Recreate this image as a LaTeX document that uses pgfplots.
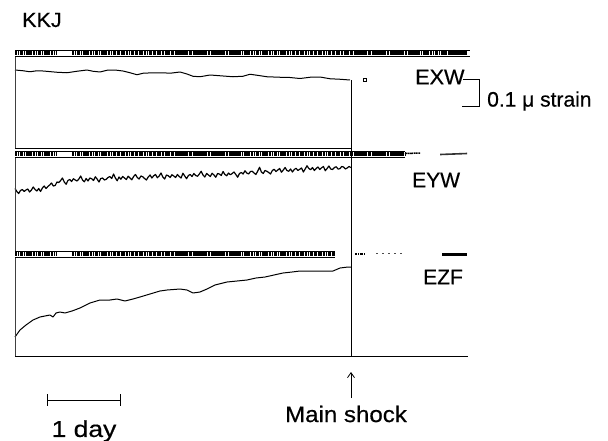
\documentclass[border=0pt]{standalone}
\usepackage{fontspec}
\setmainfont{Liberation Sans}
\newfontfamily\labfont{Liberation Sans}[FakeBold=0.5]
\usepackage{pgfplots}
\pgfplotsset{compat=1.18}
\usetikzlibrary{arrows.meta}

% strain records at station KKJ; x in days from the start of the record,
% y in microstrain above the foot of each panel (0.1 microstrain = 25 bp)
\pgfplotstableread{
d      e
0.000  0.312
0.110  0.309
0.205  0.305
0.301  0.309
0.384  0.308
0.575  0.303
0.712  0.301
0.849  0.307
0.986  0.312
1.068  0.307
1.164  0.304
1.260  0.311
1.370  0.312
1.479  0.308
1.575  0.301
1.671  0.293
1.753  0.299
1.890  0.301
2.027  0.301
2.123  0.299
2.260  0.304
2.356  0.296
2.438  0.287
2.534  0.285
2.671  0.292
2.808  0.289
2.986  0.285
3.123  0.287
3.219  0.295
3.315  0.291
3.452  0.285
3.630  0.283
3.767  0.282
3.904  0.278
4.041  0.283
4.178  0.284
4.315  0.277
4.452  0.275
4.589  0.272
}\exw

\pgfplotstableread{
d      e
0.000  0.258
0.025  0.246
0.050  0.238
0.075  0.250
0.100  0.254
0.125  0.246
0.150  0.252
0.175  0.256
0.200  0.244
0.225  0.252
0.250  0.264
0.275  0.254
0.300  0.248
0.325  0.258
0.350  0.246
0.375  0.260
0.400  0.268
0.425  0.258
0.450  0.266
0.475  0.272
0.500  0.280
0.525  0.268
0.550  0.270
0.575  0.284
0.600  0.282
0.625  0.290
0.650  0.300
0.675  0.284
0.700  0.275
0.725  0.290
0.750  0.294
0.775  0.286
0.800  0.297
0.825  0.292
0.850  0.288
0.875  0.296
0.900  0.308
0.925  0.292
0.950  0.285
0.975  0.298
1.000  0.288
1.025  0.300
1.050  0.297
1.075  0.290
1.100  0.305
1.125  0.296
1.150  0.284
1.175  0.298
1.200  0.300
1.225  0.292
1.250  0.295
1.275  0.302
1.300  0.306
1.325  0.298
1.350  0.316
1.375  0.300
1.400  0.289
1.425  0.304
1.450  0.295
1.475  0.306
1.500  0.300
1.525  0.294
1.550  0.307
1.575  0.300
1.600  0.293
1.625  0.306
1.650  0.314
1.675  0.302
1.700  0.296
1.725  0.308
1.750  0.305
1.775  0.298
1.800  0.292
1.825  0.304
1.850  0.312
1.875  0.300
1.900  0.309
1.925  0.314
1.950  0.301
1.975  0.308
2.000  0.320
2.025  0.304
2.050  0.296
2.075  0.312
2.100  0.309
2.125  0.302
2.150  0.313
2.175  0.308
2.200  0.302
2.225  0.314
2.250  0.306
2.275  0.300
2.300  0.319
2.325  0.308
2.350  0.297
2.375  0.310
2.400  0.314
2.425  0.306
2.450  0.318
2.475  0.310
2.500  0.307
2.525  0.316
2.550  0.327
2.575  0.312
2.600  0.304
2.625  0.318
2.650  0.312
2.675  0.306
2.700  0.319
2.725  0.312
2.750  0.303
2.775  0.318
2.800  0.316
2.825  0.310
2.850  0.326
2.875  0.314
2.900  0.309
2.925  0.320
2.950  0.313
2.975  0.318
3.000  0.324
3.025  0.314
3.050  0.303
3.075  0.318
3.100  0.322
3.125  0.316
3.150  0.329
3.175  0.320
3.200  0.316
3.225  0.326
3.250  0.327
3.275  0.320
3.300  0.314
3.325  0.328
3.350  0.343
3.375  0.324
3.400  0.318
3.425  0.330
3.450  0.327
3.475  0.322
3.500  0.316
3.525  0.330
3.550  0.335
3.575  0.326
3.600  0.332
3.625  0.338
3.650  0.323
3.675  0.332
3.700  0.342
3.725  0.330
3.750  0.327
3.775  0.336
3.800  0.324
3.825  0.334
3.850  0.339
3.875  0.330
3.900  0.335
3.925  0.340
3.950  0.324
3.975  0.336
4.000  0.349
4.025  0.338
4.050  0.333
4.075  0.342
4.100  0.330
4.125  0.338
4.150  0.344
4.175  0.334
4.200  0.341
4.225  0.346
4.250  0.329
4.275  0.338
4.300  0.348
4.325  0.336
4.350  0.334
4.375  0.342
4.400  0.345
4.425  0.336
4.450  0.337
4.475  0.346
4.500  0.344
4.525  0.336
4.550  0.340
4.575  0.346
4.600  0.342
}\eyw

\pgfplotstableread{
d      e
0.000  0.076
0.068  0.104
0.151  0.124
0.247  0.144
0.342  0.156
0.411  0.160
0.479  0.164
0.521  0.156
0.562  0.172
0.616  0.176
0.685  0.172
0.781  0.180
0.890  0.192
1.027  0.212
1.164  0.224
1.301  0.224
1.397  0.228
1.507  0.220
1.616  0.228
1.712  0.236
1.849  0.248
1.986  0.260
2.082  0.264
2.260  0.268
2.356  0.264
2.438  0.252
2.534  0.256
2.630  0.268
2.740  0.284
2.904  0.296
3.041  0.300
3.178  0.304
3.301  0.312
3.425  0.316
3.548  0.324
3.671  0.332
3.795  0.336
3.904  0.340
4.110  0.340
4.356  0.340
4.452  0.352
4.562  0.356
4.603  0.356
}\ezf

\pgfplotsset{
  strainpanel/.style={
    scale only axis, width=457bp, xmin=0, xmax=6.260, ymin=0,
    hide axis, clip=false, anchor=south west},
}
\tikzset{
  trace/.style={black, line width=1pt, line join=round},
  % printed time-code strip along the top of each record
  codestrip/.style={black, line width=4.2bp,
    dash pattern=on 2.4bp off 0.6bp on 1.4bp off 0.5bp on 3.4bp off 0.8bp on 1bp off 0.5bp on 2bp off 0.7bp on 4bp off 0.6bp},
  stripframe/.style={black, line width=0.6pt},
}

\begin{document}
\begin{tikzpicture}
\path[use as bounding box] (0bp,0bp) rectangle (608bp,-441bp);

% ---------- EXW ----------
\begin{axis}[strainpanel, at={(15bp,-148bp)}, height=92bp, ymax=0.368]
  \addplot[trace] table[x=d, y=e] {\exw};
  \addplot[only marks, mark=square, mark size=1.7pt, black, mark options={line width=0.8pt}]
    coordinates {(4.795,0.272)};
  \draw[line width=0.6pt, black!75] (axis cs:0,0.368) -- (axis cs:0,0);
  \draw[line width=0.6pt] (axis cs:0,0) -- (axis cs:4.62,0);
  \draw[stripframe] (axis cs:0,0.368) -- (axis cs:6.233,0.368);
  \draw[stripframe] (axis cs:0,0.392) -- (axis cs:6.233,0.392);
  \draw[codestrip] (axis cs:0,0.380) -- (axis cs:0.575,0.380);
  \draw[codestrip] (axis cs:0.781,0.380) -- (axis cs:5.918,0.380);
  \draw[black, line width=4.2bp] (axis cs:5.932,0.380) -- (axis cs:6.192,0.380);
  \coordinate (shocktop) at (axis cs:4.603,0.272);
\end{axis}

% ---------- EYW ----------
\begin{axis}[strainpanel, at={(15bp,-253bp)}, height=96bp, ymax=0.384]
  \addplot[trace, line width=1.2pt] table[x=d, y=e] {\eyw};
  \draw[line width=0.6pt, black!75] (axis cs:0,0.384) -- (axis cs:0,0);
  \draw[stripframe] (axis cs:0,0.384) -- (axis cs:5.342,0.384);
  \draw[stripframe] (axis cs:0,0.408) -- (axis cs:5.342,0.408);
  \draw[codestrip] (axis cs:0,0.396) -- (axis cs:0.575,0.396);
  \draw[codestrip] (axis cs:0.781,0.396) -- (axis cs:5.342,0.396);
  \draw[codestrip, line width=1.5bp] (axis cs:5.342,0.398) -- (axis cs:5.55,0.400);
  \draw[black!80, line width=1.6bp] (axis cs:5.822,0.394) -- (axis cs:6.192,0.398);
\end{axis}

% ---------- EZF ----------
\begin{axis}[strainpanel, at={(15bp,-356bp)}, height=99bp, ymax=0.396]
  \addplot[trace] table[x=d, y=e] {\ezf};
  \draw[line width=0.6pt, black!75] (axis cs:0,0.396) -- (axis cs:0,0);
  \draw[line width=0.6pt] (axis cs:0,0) -- (axis cs:6.206,0);
  \draw[stripframe] (axis cs:0,0.396) -- (axis cs:4.384,0.396);
  \draw[stripframe] (axis cs:0,0.420) -- (axis cs:4.384,0.420);
  \draw[codestrip] (axis cs:0,0.408) -- (axis cs:0.575,0.408);
  \draw[codestrip] (axis cs:0.781,0.408) -- (axis cs:4.384,0.408);
  \draw[codestrip, line width=2bp] (axis cs:4.658,0.408) -- (axis cs:4.80,0.408);
  \draw[black!70, line width=1.2bp, dash pattern=on 2bp off 4bp] (axis cs:4.95,0.410) -- (axis cs:5.30,0.410);
  \draw[black, line width=3bp] (axis cs:5.85,0.406) -- (axis cs:6.192,0.406);
  \coordinate (shockbase) at (axis cs:4.603,0);
\end{axis}

% main shock offset through all three records
\draw[line width=0.9pt] (shocktop) -- (shockbase);

% labels
\tikzset{lab/.style={font=\labfont\fontsize{21bp}{22bp}\selectfont, inner sep=0pt, anchor=west}}
\node[lab, font=\labfont\fontsize{20.5bp}{22bp}\selectfont, xscale=1.05] at (22bp,-20bp) {KKJ};
\node[lab, xscale=1.03] at (415bp,-77bp) {EXW};
\node[lab] at (412bp,-180bp) {EYW};
\node[lab] at (423bp,-277bp) {EZF};
\draw[line width=0.8pt] (463bp,-79bp) -- (479bp,-79bp) -- (479bp,-106bp) -- (462bp,-106bp);
\node[lab, xscale=1.0] at (487bp,-101bp) {0.1 μ strain};

% time scale and main shock marker
\draw[line width=0.8pt] (47bp,-400bp) -- (120bp,-400bp);
\draw[line width=0.8pt] (47bp,-394bp) -- (47bp,-406bp);
\draw[line width=0.8pt] (120bp,-394bp) -- (120bp,-406bp);
\node[lab, anchor=center, font=\labfont\fontsize{23bp}{23bp}\selectfont, xscale=1.15] at (84bp,-431bp) {1 day};
\draw[line width=0.8pt, -{Straight Barb[length=5bp, width=7bp]}] (351bp,-398bp) -- (351bp,-372bp);
\node[lab, anchor=center, font=\labfont\fontsize{22.5bp}{23bp}\selectfont, xscale=1.07] at (346bp,-414bp) {Main shock};
\end{tikzpicture}
\end{document}
